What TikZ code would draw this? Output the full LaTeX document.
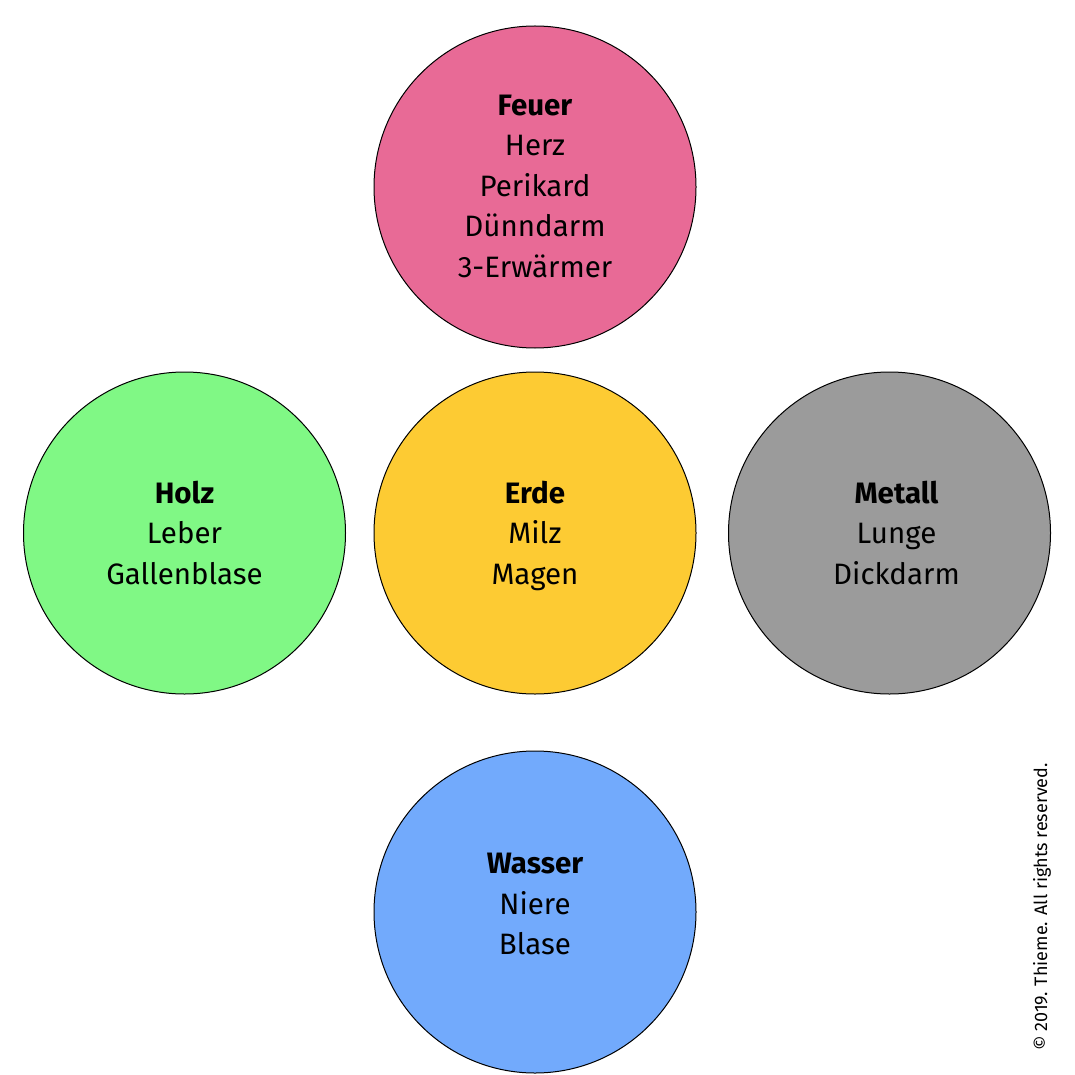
\documentclass[tikz,border=0pt]{standalone}
\usepackage{fontspec}
\usetikzlibrary{calc}
\setmainfont{Fira Sans}
\definecolor{feuer}{HTML}{E86A96}
\definecolor{holz}{HTML}{80F885}
\definecolor{erde}{HTML}{FDCB33}
\definecolor{metall}{HTML}{9B9B9B}
\definecolor{wasser}{HTML}{72AAFC}
\tikzset{
  elem/.style={circle, draw=black, line width=1pt, minimum size=322pt, inner sep=0pt},
  elemtext/.style={align=center, inner sep=0pt, font=\fontsize{29.5}{40.5}\selectfont},
}
\begin{document}
\begin{tikzpicture}[x=1pt,y=-1pt]
\useasboundingbox (0,0) rectangle (1075,1075);
\node[elem, fill=feuer] (feuer) at (535,187) {};
\node[elem, fill=holz] (holz) at (184.5,533) {};
\node[elem, fill=erde] (erde) at (535,533) {};
\node[elem, fill=metall] (metall) at (889.5,533) {};
\node[elem, fill=wasser] (wasser) at (535,912) {};
\node[elemtext] (feuert) at ($(feuer)+(0,1)$) {\strut\textbf{Feuer}\\Herz\\Perikard\\Dünndarm\\3-Erwärmer\strut};
\node[elemtext] (holzt) at ($(holz)+(0,2.4)$) {\strut\textbf{Holz}\\Leber\\Gallenblase\strut};
\node[elemtext] (erdet) at ($(erde)+(0,2.4)$) {\strut\textbf{Erde}\\Milz\\Magen\strut};
\node[elemtext] (metallt) at ($(metall)+(7,2.4)$) {\strut\textbf{Metall}\\Lunge\\Dickdarm\strut};
\node[elemtext] (wassert) at ($(wasser)+(0,-6)$) {\strut\textbf{Wasser}\\Niere\\Blase\strut};
\node[rotate=90, font=\fontsize{18}{20}\selectfont] (copy) at (1042,907) {© 2019. Thieme. All rights reserved.};
\end{tikzpicture}
\end{document}
